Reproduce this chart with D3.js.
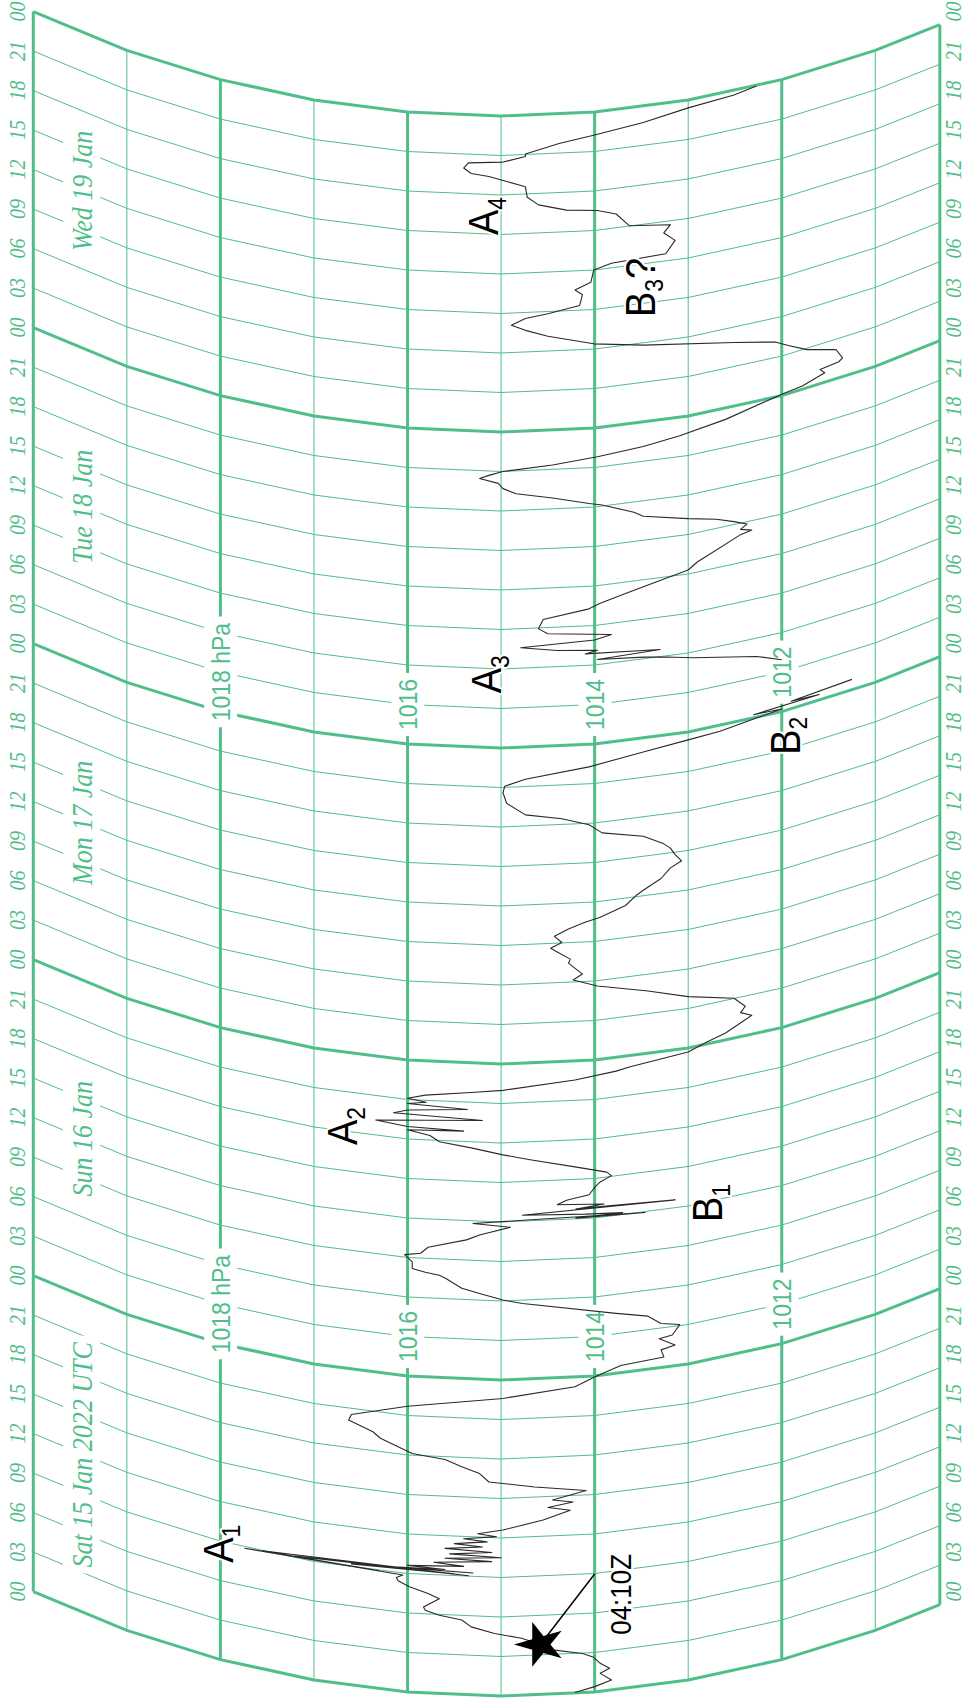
<!DOCTYPE html>
<meta charset="utf-8">
<head>
  <title>Barograph trace, 15-19 Jan 2022</title>
</head>

<style>
body { margin: 0; background: white; }
.grid { fill: none; stroke: #50be8a; }
.green { fill: #50be8a; }
.hour, .day { font-family: "Liberation Serif", "DejaVu Serif", serif; font-style: italic; }
.hpa { font-family: "Liberation Sans", Arial, sans-serif; }
.note { font-family: "Liberation Sans", Arial, sans-serif; fill: black;
        stroke: white; stroke-width: 4px; paint-order: stroke; stroke-linejoin: round; }
.trace { fill: none; stroke: #2a2a2a; stroke-width: 1.1; stroke-linejoin: round; }
</style>

<body>
  <svg width="966" height="1707"></svg>

  <script src="https://cdnjs.cloudflare.com/ajax/libs/d3/7.8.5/d3.min.js"></script>
  <script>
// chart paper
var gridHpa = [1020, 1019, 1018, 1017, 1016, 1015, 1014, 1013, 1012, 1011, 1010.31];
var labelHpa = [1018, 1016, 1014, 1012];
var labelHours = [27, 75];
var dayNames = ["Sat 15 Jan 2022 UTC", "Sun 16 Jan", "Mon 17 Jan", "Tue 18 Jan", "Wed 19 Jan"];
var tickHours = d3.range(0, 121, 3);

// pen trace, hours since Sat 15 Jan 00 UTC / hPa
var seg1Hours = [0.07, 0.41, 0.79, 1.38, 1.70, 2.14, 2.64, 3.00, 3.41, 3.86, 4.37, 4.74, 5.22, 5.72, 6.00, 6.32, 6.55, 7.26, 7.60, 8.00, 8.38, 8.62, 8.85,
  8.92, 9.00, 9.04, 9.10, 9.15, 9.20, 9.26, 9.32, 9.40, 9.50, 9.62, 9.80, 10.00, 10.20, 10.35, 10.50, 10.70, 10.90, 11.10, 11.30, 11.50, 11.70, 11.90, 12.10, 12.30,
  12.61, 13.30, 13.94, 14.24, 14.56, 14.80, 15.36, 15.84, 16.25, 16.88, 17.36, 17.85, 18.14, 19.07, 19.50, 20.16, 20.60, 21.70, 22.60, 23.30, 23.95,
  24.60, 24.83, 25.40, 25.60, 26.26, 26.40, 27.10, 27.40, 28.10, 28.60, 29.80, 30.07, 30.56, 30.92, 31.60, 31.82, 31.98, 32.20, 32.70, 33.20, 33.40,
  33.90, 34.60, 35.00, 35.60, 35.86, 36.00, 36.10, 36.20, 36.35, 36.50, 36.63, 36.80, 37.00, 37.20, 37.50, 37.80, 38.40, 38.70, 39.10, 39.40, 40.00,
  40.70, 41.10, 41.60, 41.96, 42.40, 42.70, 42.85, 42.95, 43.20, 43.70, 43.90, 44.20, 44.50, 44.70, 44.90, 45.10, 45.44, 45.80, 46.00, 46.60, 47.00,
  47.20, 47.70, 48.20, 48.60, 49.50, 49.90, 50.30, 51.10, 51.90, 52.80, 53.60, 54.20, 54.60, 55.50, 55.80, 56.40, 56.70, 57.10, 57.60, 58.10, 58.50,
  58.80, 59.50, 60.20, 60.50, 61.20, 61.90, 62.30, 62.85, 63.40, 63.80, 64.60, 65.20, 65.90, 66.50, 66.90, 67.80, 68.60, 69.10, 69.60, 70.30, 71.00,
  71.40, 71.60, 72.00, 72.20, 72.30, 72.50, 72.60, 72.85];
var seg1Hpa = [1014.21, 1014.00, 1013.82, 1013.94, 1013.84, 1013.94, 1014.01, 1014.13, 1014.45, 1014.58, 1014.78, 1015.07, 1015.32, 1015.42, 1015.66, 1015.81, 1015.83, 1015.66, 1015.78, 1015.98, 1016.10, 1016.12, 1016.05,
  1017.74, 1016.30, 1017.55, 1015.35, 1017.20, 1015.50, 1016.60, 1015.30, 1016.20, 1015.60, 1016.00, 1015.40, 1015.72, 1015.10, 1015.60, 1015.00, 1015.55, 1015.10, 1015.60, 1015.20, 1015.50, 1015.15, 1015.40, 1015.05, 1015.25,
  1014.98, 1014.55, 1014.26, 1014.50, 1014.23, 1014.45, 1014.09, 1014.64, 1015.13, 1015.23, 1015.42, 1015.60, 1015.95, 1016.29, 1016.37, 1016.63, 1016.60, 1016.00, 1014.98, 1014.21, 1013.99,
  1013.72, 1013.26, 1013.29, 1013.14, 1013.31, 1013.17, 1013.09, 1013.29, 1013.43, 1013.77, 1014.77, 1014.98, 1015.23, 1015.42, 1015.59, 1015.66, 1015.81, 1015.95, 1015.95, 1016.03, 1015.86,
  1015.78, 1015.37, 1015.23, 1014.90, 1015.30, 1013.46, 1014.20, 1013.70, 1014.10, 1014.77, 1013.14, 1014.20, 1013.90, 1014.40, 1014.30, 1014.06, 1013.99, 1013.94, 1013.82, 1013.87, 1014.21,
  1014.69, 1014.98, 1015.32, 1015.66, 1015.76, 1016.00, 1015.40, 1016.00, 1016.34, 1015.20, 1016.15, 1016.00, 1015.36, 1016.00, 1015.80, 1016.00, 1015.81, 1015.32, 1014.98, 1014.21, 1013.77,
  1013.63, 1013.00, 1012.80, 1012.60, 1012.32, 1012.44, 1012.39, 1012.51, 1013.00, 1013.43, 1013.97, 1014.23, 1014.13, 1014.28, 1014.26, 1014.40, 1014.47, 1014.35, 1014.43, 1014.28, 1014.11,
  1013.94, 1013.67, 1013.55, 1013.48, 1013.29, 1013.19, 1013.07, 1013.14, 1013.19, 1013.26, 1013.48, 1013.92, 1014.06, 1014.35, 1014.74, 1014.94, 1014.98, 1014.96, 1014.74, 1014.06, 1013.48,
  1013.00, 1012.66, 1012.27, 1012.00, 1012.30, 1011.60, 1011.90, 1011.25];
var seg2Hours = [75.94, 76.67, 77.57, 77.97, 78.20, 78.40, 78.60, 78.90, 79.10, 79.30, 79.60, 79.90, 80.20, 80.60, 81.00, 81.70, 82.30, 82.65, 83.20, 83.80,
  84.30, 84.80, 85.10, 86.20, 86.35, 86.60, 86.90, 87.30, 87.76, 88.20, 88.90, 89.30, 90.10, 90.30, 90.90, 91.30, 91.70, 92.10, 92.45, 92.70, 93.00,
  93.40, 93.80, 94.20, 94.60, 95.20, 96.10, 96.30, 96.80, 97.15, 97.30, 97.50, 98.30, 98.96, 99.67, 100.20, 100.90, 101.90, 102.40, 103.20, 103.70,
  104.10, 104.60, 104.90, 105.40, 106.20, 106.60, 107.10, 108.00, 108.40, 108.60, 109.50, 110.20, 110.75, 111.10, 112.10, 112.50, 112.70, 113.20,
  113.80, 114.60, 115.00, 115.40, 115.60, 116.00, 116.40, 116.50, 116.90, 117.10, 117.80, 118.25, 118.80, 119.40, 119.70, 120.00];
var seg2Hpa = [1012.00, 1012.27, 1012.95, 1013.24, 1013.48, 1013.97, 1013.30, 1014.10, 1013.97, 1014.40, 1014.79, 1014.00, 1013.82, 1014.50, 1014.60, 1014.55, 1014.06, 1013.94, 1013.67, 1013.33,
  1013.00, 1012.90, 1012.80, 1012.44, 1012.32, 1012.44, 1012.37, 1012.51, 1012.70, 1013.00, 1013.48, 1013.58, 1013.92, 1014.06, 1014.45, 1014.84, 1014.98, 1015.03, 1015.23, 1015.13, 1014.98,
  1014.45, 1013.97, 1013.48, 1013.09, 1012.60, 1012.00, 1011.78, 1011.54, 1011.59, 1011.39, 1011.35, 1011.42, 1011.73, 1011.93, 1012.07, 1012.51, 1013.48, 1014.01, 1014.50, 1014.74,
  1014.89, 1014.74, 1014.50, 1014.16, 1014.13, 1014.21, 1014.04, 1014.01, 1013.82, 1013.24, 1013.14, 1013.26, 1013.19, 1013.63, 1013.77, 1013.97, 1014.30, 1014.60,
  1014.72, 1014.74, 1014.93, 1015.13, 1015.32, 1015.40, 1015.35, 1014.98, 1014.74, 1014.74, 1014.38, 1014.00, 1013.48, 1013.00, 1012.51, 1012.27];

// annotations: pressure-wave passages
var noteLetter = ["A", "A", "A", "A", "B", "B", "B"];
var noteIndex = ["1", "2", "3", "4", "1", "2", "3"];
var noteTail = ["", "", "", "", "", "", "?"];
var noteHours = [7.59, 41.13, 76.15, 110.96, 34.3, 68.35, 103.9];
var noteHpa = [1017.87, 1016.54, 1015.0, 1015.03, 1012.64, 1011.81, 1013.35];

var eruption = {hour: 3.86, hpa: 1014.58, label: "04:10Z", labelHour: 4.06, labelHpa: 1013.61, pinHour: 8.96, pinHpa: 1014.0};

var svg = d3.select('svg');
var x = d3.scaleLinear().domain([1020, 1011]).range([33.3, 875.3]);
var y = d3.scaleLinear().domain([0, 120]).range([1696, 116]);
var R = 1100, cx = x(1015), stretch = 1.12;

function sag(px) { return R - Math.sqrt(R * R - (px - cx) * (px - cx)); }
function pt(t, p) { var px = x(p); return [px, y(t) - sag(px)]; }
function place(px, py) { return 'translate(' + px + ',' + py + ') scale(' + stretch + ',1) rotate(-90)'; }
function pad2(n) { return (n < 10 ? '0' : '') + n; }

var line = d3.line();

// time arcs
svg.append('g').selectAll('path')
  .data(tickHours)
  .enter()
  .append('path')
  .attr('class', 'grid')
  .attr('stroke-width', function(t) { return t % 24 === 0 ? 3 : 1; })
  .attr('d', function(t) { return line(gridHpa.map(function(p) { return pt(t, p); })); });

// pressure lines
svg.append('g').selectAll('path')
  .data(gridHpa)
  .enter()
  .append('path')
  .attr('class', 'grid')
  .attr('stroke-width', function(p, i) { return (i === 0 || i === gridHpa.length - 1 || p % 2 === 0) ? 3 : 1; })
  .attr('d', function(p) { return line([pt(0, p), pt(120, p)]); });

// hour ticks on both edges
[17.5, 953.5].forEach(function(px) {
  svg.append('g').selectAll('text')
    .data(tickHours)
    .enter()
    .append('text')
    .attr('class', 'hour green')
    .attr('font-size', 20)
    .attr('text-anchor', 'middle')
    .attr('dy', '0.35em')
    .attr('transform', function(t) { return place(px, pt(t, 1020)[1]); })
    .text(function(t) { return pad2(t % 24); });
});

function boxed(g, pad) {
  g.each(function() {
    var grp = d3.select(this);
    var b = grp.select('text').node().getBBox();
    grp.insert('rect', 'text')
      .attr('x', b.x - pad[0]).attr('y', b.y - pad[1])
      .attr('width', b.width + 2 * pad[0]).attr('height', b.height + 2 * pad[1])
      .attr('fill', 'white');
  });
}

// day names
var days = svg.append('g').selectAll('g')
  .data(dayNames)
  .enter()
  .append('g')
  .attr('transform', function(d, i) { return place(81.5, y(12 + 24 * i) - sag(81.5)); });
days.append('text')
  .attr('class', 'day green')
  .attr('font-size', 26)
  .attr('text-anchor', 'middle')
  .attr('dy', '0.35em')
  .text(function(d) { return d; });
boxed(days, [6, 2]);

// hPa labels
var hpaLabels = [];
labelHours.forEach(function(t) {
  labelHpa.forEach(function(p) { hpaLabels.push({t: t, p: p}); });
});
var hl = svg.append('g').selectAll('g')
  .data(hpaLabels)
  .enter()
  .append('g')
  .attr('transform', function(d) { var q = pt(d.t, d.p); return place(q[0], q[1]); });
hl.append('text')
  .attr('class', 'hpa green')
  .attr('font-size', 23)
  .attr('text-anchor', 'middle')
  .attr('dy', '0.36em')
  .text(function(d) { return d.p === 1018 ? d.p + ' hPa' : d.p; });
boxed(hl, [6, 2]);

// pen trace
var traceLine = d3.line()
  .x(function(d) { return pt(d[0], d[1])[0]; })
  .y(function(d) { return pt(d[0], d[1])[1]; });

svg.append('path')
  .attr('class', 'trace')
  .attr('d', traceLine(d3.zip(seg1Hours, seg1Hpa)));
svg.append('path')
  .attr('class', 'trace')
  .attr('d', traceLine(d3.zip(seg2Hours, seg2Hpa)));

// eruption marker
var e0 = pt(eruption.hour, eruption.hpa), e1 = pt(eruption.pinHour, eruption.pinHpa);
svg.append('line')
  .attr('x1', e0[0]).attr('y1', e0[1]).attr('x2', e1[0]).attr('y2', e1[1])
  .attr('stroke', 'black').attr('stroke-width', 1.5);
svg.append('path')
  .attr('d', d3.symbol().type(d3.symbolStar).size(620)())
  .attr('transform', 'translate(' + e0 + ') scale(' + stretch + ',1) rotate(-90)')
  .attr('fill', 'black');
var el = pt(eruption.labelHour, eruption.labelHpa);
svg.append('text')
  .attr('class', 'note')
  .attr('font-size', 26)
  .attr('transform', place(el[0], el[1]))
  .text(eruption.label);

// wave labels
var notes = svg.append('g').selectAll('text')
  .data(d3.range(noteLetter.length))
  .enter()
  .append('text')
  .attr('class', 'note')
  .attr('font-size', 38)
  .attr('transform', function(i) { var q = pt(noteHours[i], noteHpa[i]); return place(q[0], q[1]); });
notes.append('tspan').text(function(i) { return noteLetter[i]; });
notes.append('tspan').attr('font-size', 23).attr('dy', 7).text(function(i) { return noteIndex[i]; });
notes.append('tspan').attr('dy', -7).text(function(i) { return noteTail[i]; });
  </script>
</body>
</html>
